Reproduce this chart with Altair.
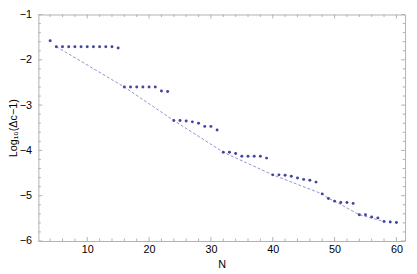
import altair as alt
import pandas as pd

# data
N_vals = list(range(4, 61))
logdelta = [
    -1.58,
    -1.71, -1.71, -1.71, -1.71, -1.71, -1.71, -1.71, -1.71, -1.71, -1.71,
    -1.74,
    -2.60, -2.60, -2.60, -2.60, -2.60, -2.60,
    -2.69, -2.70,
    -3.34, -3.34, -3.35, -3.37, -3.40, -3.47, -3.47, -3.55,
    -4.04, -4.04, -4.07, -4.13, -4.13, -4.13, -4.13, -4.17,
    -4.54, -4.54, -4.55, -4.57, -4.61, -4.64, -4.66, -4.70,
    -4.96, -5.06, -5.12, -5.15, -5.15, -5.17,
    -5.42, -5.42, -5.47, -5.49, -5.57, -5.58, -5.59,
]
line_N = [5, 16, 24, 32, 40, 48, 49, 50, 54, 58]
line_vals = [-1.71, -2.60, -3.34, -4.04, -4.54, -4.96, -5.06, -5.12, -5.42, -5.57]

x_major = [10, 20, 30, 40, 50, 60]
x_minor = [v for v in range(4, 61, 2) if v % 10 != 0]
y_major = [-6, -5, -4, -3, -2, -1]
y_minor = [round(-6 + 0.2 * i, 1) for i in range(26) if i % 5 != 0]

W, H = 374, 231
FONT = "Liberation Sans"
FRAME = "#b0b0b0"
PCOL = "#4343a0"

pts = pd.DataFrame({"N": N_vals, "v": logdelta})
ln = pd.DataFrame({"N": line_N, "v": line_vals})
xmaj = pd.DataFrame({"t": x_major})
xmin = pd.DataFrame({"t": x_minor})
ymaj = pd.DataFrame({"t": y_major})
ymin = pd.DataFrame({"t": y_minor})

xs = alt.Scale(domain=[2.1, 61.4], nice=False, zero=False)
ys = alt.Scale(domain=[-6, -1], nice=False, zero=False)

x_axis = alt.Axis(values=x_major, title="N", ticks=False, domain=False, grid=False,
                  labelPadding=3, labelFont=FONT, labelFontSize=11, labelColor="black",
                  titleFont=FONT, titleFontSize=11, titleFontWeight="normal", titleColor="black",
                  titleY=24, titleBaseline="middle", labelFlush=False, labelOverlap=False)
y_axis = alt.Axis(values=y_major, title="Log₁₀(Δc−1)", ticks=False, domain=False, grid=False,
                  labelPadding=7, labelFont=FONT, labelFontSize=11, labelColor="black",
                  titleFont=FONT, titleFontSize=11, titleFontWeight="normal", titleColor="black",
                  titleX=-25.5, titleY=H / 2, titleBaseline="middle", titleAlign="center",
                  labelFlush=False, labelOverlap=False)

X = alt.X("N:Q", scale=xs, axis=x_axis)
Y = alt.Y("v:Q", scale=ys, axis=y_axis)

points = alt.Chart(pts).mark_circle(size=9, opacity=1, color=PCOL).encode(x=X, y=Y)
dashed = alt.Chart(ln).mark_line(strokeDash=[3, 2], strokeWidth=0.8, color="#7676c0").encode(x=X, y=Y)

def xticks(df, length):
    xt = alt.X("t:Q", scale=xs, axis=x_axis)
    b = alt.Chart(df).mark_rule(color=FRAME, strokeWidth=1).encode(
        x=xt, y=alt.value(H), y2=alt.value(H - length))
    t = alt.Chart(df).mark_rule(color=FRAME, strokeWidth=1).encode(
        x=xt, y=alt.value(0), y2=alt.value(length))
    return [b, t]

def yticks(df, length):
    yt = alt.Y("t:Q", scale=ys, axis=y_axis)
    l = alt.Chart(df).mark_rule(color=FRAME, strokeWidth=1).encode(
        y=yt, x=alt.value(0), x2=alt.value(length))
    r = alt.Chart(df).mark_rule(color=FRAME, strokeWidth=1).encode(
        y=yt, x=alt.value(W), x2=alt.value(W - length))
    return [l, r]

layers = xticks(xmaj, 4) + xticks(xmin, 2.5) + yticks(ymaj, 4) + yticks(ymin, 2.5) + [dashed, points]

chart = alt.layer(*layers).properties(
    width=W, height=H,
    autosize=alt.AutoSizeParams(type="none"),
    padding={"left": 31, "top": 4, "right": 4, "bottom": 30},
).configure_view(stroke=FRAME, strokeWidth=1)

chart.save("out.html", embed_options={"renderer": "svg", "actions": False})
